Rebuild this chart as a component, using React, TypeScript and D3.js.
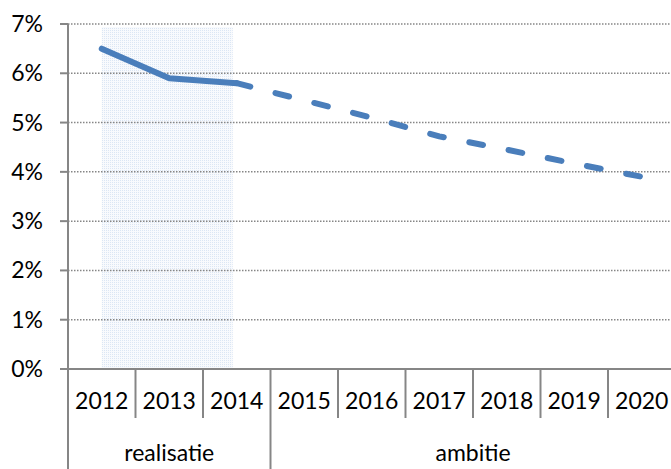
import React from "react";
import * as d3 from "d3";

const years = ["2012", "2013", "2014", "2015", "2016", "2017", "2018", "2019", "2020"];
const realisatieYears = ["2012", "2013", "2014"];
const realisatieValues = [6.5, 5.9, 5.8];
const ambitieYears = ["2014", "2015", "2016", "2017", "2018", "2019", "2020"];
const ambitieValues = [5.8, 5.45, 5.1, 4.72, 4.45, 4.17, 3.9];
const yTicks = [0, 1, 2, 3, 4, 5, 6, 7];
const groups = [
  { label: "realisatie", from: "2012", to: "2014" },
  { label: "ambitie", from: "2015", to: "2020" },
];

const W = 671;
const H = 469;
const left = 68;
const right = 675.5;
const top = 24;
const bottom = 369;
const font = "Lato, 'Noto Sans', sans-serif";
const axisColor = "#868686";
const lineColor = "#4a7ebb";

export default function App() {
  const x = d3.scaleBand<string>().domain(years).range([left, right]).padding(0);
  const y = d3.scaleLinear().domain([0, 7]).range([bottom, top]);
  const cx = (d: string) => (x(d) as number) + x.bandwidth() / 2;

  const line = d3
    .line<[string, number]>()
    .x((d) => cx(d[0]))
    .y((d) => y(d[1]));

  const realData: [string, number][] = realisatieYears.map((d, i) => [d, realisatieValues[i]]);
  const ambData: [string, number][] = ambitieYears.map((d, i) => [d, ambitieValues[i]]);

  const shadeX0 = cx(realisatieYears[0]);
  const shadeX1 = cx(realisatieYears[realisatieYears.length - 1]) - 4;

  const boundaries = years.map((d) => x(d) as number).concat([right]);
  const groupBoundaries = new Set<number>();
  groups.forEach((g) => {
    groupBoundaries.add(x(g.from) as number);
    groupBoundaries.add((x(g.to) as number) + x.bandwidth());
  });

  return (
    <svg
      width={W}
      height={H}
      style={{ position: "absolute", left: 0, top: 0, background: "#fff" }}
    >
      <defs>
        <pattern id="dots" width="2" height="2" patternUnits="userSpaceOnUse">
          <rect width="2" height="2" fill="#f8fafd" />
          <rect width="1" height="1" fill="#dbe6f4" />
        </pattern>
      </defs>
      <rect x={0} y={0} width={W} height={H} fill="#fff" />
      <rect
        x={shadeX0}
        y={y(7) + 3}
        width={shadeX1 - shadeX0}
        height={y(0) - y(7) - 3}
        fill="url(#dots)"
      />
      {yTicks
        .filter((t) => t > 0)
        .map((t) => (
          <line
            key={"g" + t}
            x1={left}
            x2={W}
            y1={y(t)}
            y2={y(t)}
            stroke={axisColor}
            strokeWidth={1.5}
            strokeDasharray="1.5,1.5"
          />
        ))}
      <line x1={left} x2={left} y1={y(7)} y2={y(0)} stroke={axisColor} strokeWidth={2} />
      {yTicks.map((t) => (
        <g key={"t" + t}>
          <line x1={left - 8} x2={left} y1={y(t)} y2={y(t)} stroke={axisColor} strokeWidth={2} />
          <text
            x={43}
            y={y(t) + 8}
            textAnchor="end"
            fontFamily={font}
            fontSize={23}
            fill="#000"
          >
            {t + "%"}
          </text>
        </g>
      ))}
      <line x1={left - 8} x2={W} y1={y(0)} y2={y(0)} stroke={axisColor} strokeWidth={2} />
      {boundaries.map((b, i) => (
        <line
          key={"b" + i}
          x1={b}
          x2={b}
          y1={y(0)}
          y2={groupBoundaries.has(b) ? H : 418}
          stroke={axisColor}
          strokeWidth={2}
        />
      ))}
      {years.map((d) => (
        <text
          key={"y" + d}
          x={cx(d)}
          y={409}
          textAnchor="middle"
          fontFamily={font}
          fontSize={23}
          fill="#000"
        >
          {d}
        </text>
      ))}
      {groups.map((g) => {
        const gx0 = x(g.from) as number;
        const gx1 = (x(g.to) as number) + x.bandwidth();
        return (
          <text
            key={g.label}
            x={(gx0 + gx1) / 2}
            y={461}
            textAnchor="middle"
            fontFamily={font}
            fontSize={23}
            fill="#000"
          >
            {g.label}
          </text>
        );
      })}
      <path
        d={line(ambData) || ""}
        fill="none"
        stroke={lineColor}
        strokeWidth={6}
        strokeLinecap="round"
        strokeLinejoin="round"
        strokeDasharray="14,26"
      />
      <path
        d={line(realData) || ""}
        fill="none"
        stroke={lineColor}
        strokeWidth={6}
        strokeLinecap="round"
        strokeLinejoin="round"
      />
    </svg>
  );
}
